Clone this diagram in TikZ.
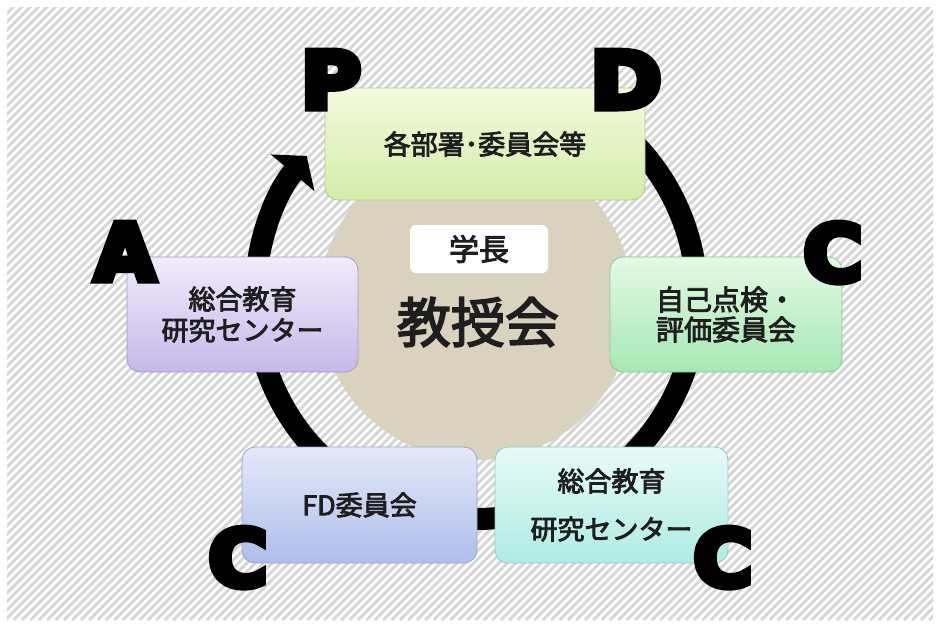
\documentclass[tikz,border=0pt]{standalone}
\usepackage{fontspec}
\usetikzlibrary{arrows.meta}
\newfontfamily\jpfont{Noto Sans CJK JP}[FakeBold=3]
\newfontfamily\letterfont{DejaVu Sans}[FakeBold=9]
\definecolor{stripecol}{RGB}{214,214,214}
\definecolor{beige}{RGB}{216,210,190}
\definecolor{txt}{RGB}{30,30,30}
\begin{document}
\begin{tikzpicture}[x=1pt,y=-1pt,
  stripe/.style={draw=stripecol,line width=2.9pt},
  box/.style={rounded corners=13pt,line width=0.8pt,inner sep=0pt,align=center,
    text=txt,font=\jpfont\fontsize{27}{31}\selectfont},
  bigletter/.style={anchor=base,inner sep=0pt,font=\letterfont\bfseries\fontsize{78}{78}\selectfont},
  ring/.style={line width=22pt,-{Triangle[width=56pt,length=22pt]}}]
\useasboundingbox (0,0) rectangle (940,627);
\fill[white] (0,0) rectangle (940,627);
\begin{scope}
  \clip (7,7) rectangle (933,620);
  \foreach \i in {0,...,192} \draw[stripe] ({-650+\i*8.4},620) -- ++(660,-660);
\end{scope}
% centre disc
\node[circle,fill=beige,minimum size=314pt,inner sep=0pt] (core) at (476,303) {};
% cycle ring
\coordinate (hub) at (476,298);
\draw[ring] (hub) ++(-58:221) arc[start angle=-58,end angle=220,radius=221];
% boxes
\node[box,minimum width=320pt,minimum height=112pt,draw={rgb,255:red,178;green,204;blue,140},
  top color={rgb,255:red,243;green,250;blue,222},bottom color={rgb,255:red,212;green,236;blue,170}]
  (plan) at (485,144) {各部署･委員会等};
\node[box,minimum width=232pt,minimum height=115pt,draw={rgb,255:red,138;green,200;blue,150},
  top color={rgb,255:red,228;green,249;blue,228},bottom color={rgb,255:red,166;green,232;blue,180},
  font=\jpfont\fontsize{28}{30}\selectfont,align=left]
  (selfeval) at (726,314.5) {自己点検・\\評価委員会};
\node[box,minimum width=233pt,minimum height=116pt,draw={rgb,255:red,140;green,205;blue,198},
  top color={rgb,255:red,232;green,250;blue,248},bottom color={rgb,255:red,174;green,236;blue,228},
  font=\jpfont\fontsize{27}{48}\selectfont]
  (centerR) at (611.5,505) {総合教育\\研究センター};
\node[box,minimum width=235pt,minimum height=116pt,draw={rgb,255:red,150;green,166;blue,208},
  top color={rgb,255:red,228;green,232;blue,249},bottom color={rgb,255:red,174;green,190;blue,234}]
  (fd) at (359.5,505) {FD委員会};
\node[box,minimum width=231pt,minimum height=115pt,draw={rgb,255:red,168;green,152;blue,204},
  top color={rgb,255:red,240;green,236;blue,250},bottom color={rgb,255:red,198;green,184;blue,234}]
  (centerL) at (242.5,314.5) {総合教育\\研究センター};
% centre labels
\node[fill=white,rounded corners=6pt,minimum width=138pt,minimum height=48pt,inner sep=0pt,
  text=txt,font=\jpfont\fontsize{30}{30}\selectfont] (head) at (479,249) {学長};
\node[inner sep=0pt,text=txt,font=\jpfont\fontsize{54}{54}\selectfont] (council) at (478,322) {教授会};
% PDCA letters
\node[bigletter] (P) at (331,108) {\scalebox{1.05}[1]{P}};
\node[bigletter] (D) at (626,108) {\scalebox{1.1}[1]{D}};
\node[bigletter] (C1) at (833,281) {\scalebox{1.03}[1]{C}};
\node[bigletter] (C2) at (723,586) {\scalebox{1.03}[1]{C}};
\node[bigletter] (C3) at (238,586) {\scalebox{1.03}[1]{C}};
\node[bigletter] (A) at (125,280) {A};
\end{tikzpicture}
\end{document}
